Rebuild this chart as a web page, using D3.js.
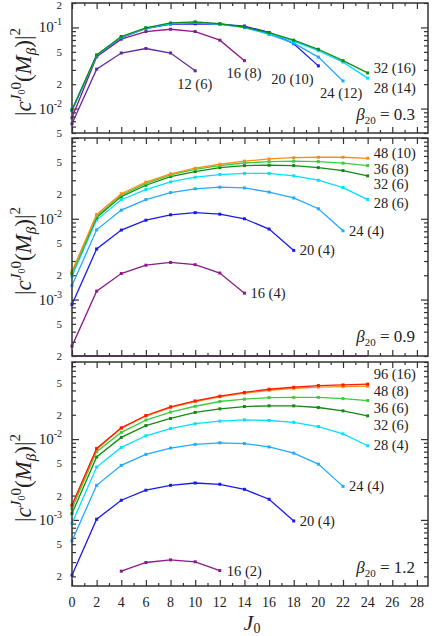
<!DOCTYPE html>
<html lang="en">
<head>
<meta charset="UTF-8">
<title></title>
<script type="text/javascript" src="https://cdn.jsdelivr.net/npm/d3@7"></script>
<style>
    body{ margin:0; background:#fff; }
    text{ font-family:"Liberation Serif","DejaVu Serif",serif; fill:#222; }
    .frame{ fill:none; stroke:#333; stroke-width:1.5; }
    .axis path{ display:none; }
    .axis line{ stroke:#333; stroke-width:1.2; }
    .series path{ fill:none; stroke-width:1.3; }
</style>
</head>
<body>
<svg id="chart" width="436" height="636"></svg>
<script type="text/javascript">
    // J0 values (x axis)
    var J0 = [0,2,4,6,8,10,12,14,16,18,20,22,24];
    var xTicks = [0,2,4,6,8,10,12,14,16,18,20,22,24,26,28];

    // beta20 = 0.3
    var b03_32_16 = [0.0097,0.0457,0.0773,0.099,0.1135,0.117,0.111,0.101,0.086,0.0697,0.0538,0.0389,0.0275];
    var b03_28_14 = [0.0095,0.0455,0.0765,0.098,0.112,0.1155,0.110,0.100,0.0842,0.0677,0.0518,0.0374,0.0237];
    var b03_24_12 = [0.0095,0.0452,0.076,0.0975,0.1115,0.115,0.109,0.100,0.082,0.064,0.0431,0.0219];
    var b03_20_10 = [0.0094,0.045,0.075,0.097,0.110,0.111,0.110,0.104,0.0867,0.063,0.0336];
    var b03_16_8  = [0.0077,0.0436,0.0716,0.089,0.095,0.089,0.0697,0.0389];
    var b03_12_6  = [0.0065,0.0306,0.0484,0.055,0.0484,0.0292];

    // beta20 = 0.9
    var b09_48_10 = [0.00224,0.0113,0.0204,0.0284,0.036,0.0423,0.0473,0.0517,0.055,0.057,0.0578,0.0578,0.0561];
    var b09_36_8  = [0.0021,0.0108,0.0197,0.0273,0.035,0.041,0.0455,0.049,0.051,0.0517,0.051,0.0488,0.0455];
    var b09_32_6  = [0.0021,0.0104,0.0188,0.026,0.0333,0.0384,0.043,0.0455,0.046,0.0455,0.043,0.0395,0.034];
    var b09_28_6  = [0.00194,0.0097,0.0172,0.023,0.0286,0.0327,0.0353,0.0365,0.0365,0.034,0.030,0.0243,0.0173];
    var b09_24_4  = [0.00149,0.0073,0.0128,0.0173,0.0211,0.0235,0.0246,0.0241,0.0214,0.0181,0.0133,0.0071];
    var b09_20_4  = [0.00087,0.00423,0.00725,0.0096,0.0112,0.0119,0.0114,0.0100,0.00746,0.00406];
    var b09_16_4  = [0.000265,0.00127,0.0021,0.00266,0.00288,0.0027,0.00213,0.0012];
    var b09_low   = [0.0002,0.0002,0.0002,0.0002,0.0002,0.0002,0.0002,0.0002,0.0002,0.0002,0.0002,0.0002,0.0002];

    // beta20 = 1.2
    var b12_96_16 = [0.00153,0.00767,0.0138,0.0196,0.0251,0.0297,0.034,0.0378,0.0414,0.0438,0.046,0.0468,0.0478];
    var b12_48_8  = [0.0015,0.0075,0.0136,0.0193,0.0246,0.0292,0.0334,0.037,0.0402,0.0425,0.044,0.0447,0.0452];
    var b12_36_6  = [0.00137,0.0070,0.0121,0.0172,0.0216,0.0255,0.0292,0.0312,0.0326,0.0328,0.0328,0.0317,0.030];
    var b12_32_6  = [0.0012,0.006,0.0105,0.0147,0.018,0.0214,0.0237,0.0253,0.0258,0.0258,0.0246,0.0224,0.0194];
    var b12_28_4  = [0.00091,0.00451,0.00789,0.011,0.0135,0.0155,0.0167,0.0173,0.017,0.0161,0.0143,0.0116,0.00827];
    var b12_24_4  = [0.00055,0.00268,0.00473,0.00648,0.00775,0.0086,0.009,0.0088,0.008,0.0067,0.0049,0.0026];
    var b12_20_4  = [0.000207,0.00102,0.00175,0.00233,0.00268,0.00286,0.00276,0.00239,0.0018,0.00097];
    var b12_16_2  = [0.000232,0.000297,0.00032,0.000303,0.000236];

    var col = {
        violet:"#5e2a9c", purple:"#8b1a8b", blue:"#1a1aee", sky:"#22aaff",
        cyan:"#00e0ff", dgreen:"#148a14", lgreen:"#3ccc3c", orange:"#ff8c1a", red:"#ff1a00"
    };

    var panels = [
        { top:3, bottom:133, domain:[5e-3,2e-1], beta:"0.3", by:120,
          series:[
            {v:b03_12_6,  s:0, c:col.violet, t:"12 (6)",  dx:-18, dy:18},
            {v:b03_16_8,  s:0, c:col.purple, t:"16 (8)",  dx:-18, dy:17},
            {v:b03_20_10, s:0, c:col.blue,   t:"20 (10)", dx:-47, dy:18},
            {v:b03_24_12, s:0, c:col.sky,    t:"24 (12)", dx:-23, dy:17},
            {v:b03_28_14, s:0, c:col.cyan,   t:"28 (14)", dx:6,   dy:15},
            {v:b03_32_16, s:0, c:col.dgreen, t:"32 (16)", dx:6,   dy:0}
          ]},
        { top:138, bottom:356, domain:[2e-4,1e-1], beta:"0.9", by:342,
          series:[
            {v:b09_low,   s:0, c:col.purple, t:null, nodots:true},
            {v:b09_16_4,  s:0, c:col.purple, t:"16 (4)",  dx:6, dy:5},
            {v:b09_20_4,  s:0, c:col.blue,   t:"20 (4)",  dx:6, dy:5},
            {v:b09_24_4,  s:0, c:col.sky,    t:"24 (4)",  dx:6, dy:5},
            {v:b09_28_6,  s:0, c:col.cyan,   t:"28 (6)",  dx:6, dy:8},
            {v:b09_32_6,  s:0, c:col.dgreen, t:"32 (6)",  dx:6, dy:13},
            {v:b09_36_8,  s:0, c:col.lgreen, t:"36 (8)",  dx:6, dy:8},
            {v:b09_48_10, s:0, c:col.orange, t:"48 (10)", dx:6, dy:0}
          ]},
        { top:362, bottom:586, domain:[1.52e-4,9e-2], beta:"1.2", by:573,
          series:[
            {v:b12_16_2,  s:2, c:col.purple, t:"16 (2)",  dx:7, dy:5},
            {v:b12_20_4,  s:0, c:col.blue,   t:"20 (4)",  dx:6, dy:5},
            {v:b12_24_4,  s:0, c:col.sky,    t:"24 (4)",  dx:6, dy:5},
            {v:b12_28_4,  s:0, c:col.cyan,   t:"28 (4)",  dx:6, dy:4},
            {v:b12_32_6,  s:0, c:col.dgreen, t:"32 (6)",  dx:6, dy:14},
            {v:b12_36_6,  s:0, c:col.lgreen, t:"36 (6)",  dx:6, dy:12},
            {v:b12_48_8,  s:0, c:col.orange, t:"48 (8)",  dx:6, dy:10},
            {v:b12_96_16, s:0, c:col.red,    t:"96 (16)", dx:6, dy:-5}
          ]}
    ];

    var svg = d3.select("#chart");
    var left = 72, right = 428;
    var x = d3.scaleLinear().domain([0,28.9]).range([left,right]);

    // appends pieces of text, each {t, size, italic, shift} (shift = baseline offset from main line)
    function rich(sel, parts){
        var cur = 0;
        parts.forEach(function(p){
            var sh = p.shift || 0;
            sel.append("tspan")
                .attr("dy", sh - cur)
                .attr("font-size", p.size)
                .attr("font-style", p.italic ? "italic" : null)
                .text(p.t);
            cur = sh;
        });
    }

    panels.forEach(function(p, pi){
        var y = d3.scaleLog().domain(p.domain).range([p.bottom,p.top]).clamp(true);
        var g = svg.append("g");
        var allTicks = y.ticks();
        var majors = allTicks.filter(function(d){ return Math.abs(Math.log10(d) - Math.round(Math.log10(d))) < 1e-6; });
        var minors = allTicks.filter(function(d){ return majors.indexOf(d) < 0; });
        var xMinor = d3.range(1,29,2);

        // y ticks both sides
        g.append("g").attr("class","axis").attr("transform","translate("+left+",0)")
            .call(d3.axisLeft(y).tickValues(majors).tickSize(-7).tickFormat(""));
        g.append("g").attr("class","axis").attr("transform","translate("+left+",0)")
            .call(d3.axisLeft(y).tickValues(minors).tickSize(-4).tickFormat(""));
        g.append("g").attr("class","axis").attr("transform","translate("+right+",0)")
            .call(d3.axisRight(y).tickValues(majors).tickSize(-7).tickFormat(""));
        g.append("g").attr("class","axis").attr("transform","translate("+right+",0)")
            .call(d3.axisRight(y).tickValues(minors).tickSize(-4).tickFormat(""));
        // x ticks top and bottom
        g.append("g").attr("class","axis").attr("transform","translate(0,"+p.bottom+")")
            .call(d3.axisBottom(x).tickValues(xTicks).tickSize(-6).tickFormat(""));
        g.append("g").attr("class","axis").attr("transform","translate(0,"+p.bottom+")")
            .call(d3.axisBottom(x).tickValues(xMinor).tickSize(-3).tickFormat(""));
        g.append("g").attr("class","axis").attr("transform","translate(0,"+p.top+")")
            .call(d3.axisTop(x).tickValues(xTicks).tickSize(-6).tickFormat(""));
        g.append("g").attr("class","axis").attr("transform","translate(0,"+p.top+")")
            .call(d3.axisTop(x).tickValues(xMinor).tickSize(-3).tickFormat(""));

        // y labels (none right on the top edge of a panel)
        majors.forEach(function(d){
            if(y(d) < p.top + 4) return;
            var t = g.append("text").attr("x", left-10).attr("y", y(d)+5).attr("text-anchor","end");
            rich(t, [{t:"10", size:15}, {t:String(Math.round(Math.log10(d))), size:10, shift:-7}]);
        });
        minors.forEach(function(d){
            var m = Math.round(d / Math.pow(10, Math.floor(Math.log10(d)+1e-9)));
            if(m==2 || m==5){
                g.append("text").attr("x", left-10).attr("y", Math.max(y(d)+4, 9))
                    .attr("text-anchor","end").attr("font-size",11).text(m);
            }
        });

        // series
        var line = d3.line().x(function(d){ return x(d[0]); }).y(function(d){ return y(d[1]); });
        p.series.forEach(function(s){
            var pts = s.v.map(function(v,i){ return [J0[i+s.s], v]; });
            var sg = g.append("g").attr("class","series");
            sg.append("path").attr("d", line(pts)).attr("stroke", s.c);
            if(!s.nodots){
                sg.selectAll("rect").data(pts).enter().append("rect")
                    .attr("x", function(d){ return x(d[0])-1.5; })
                    .attr("y", function(d){ return y(d[1])-1.5; })
                    .attr("width",3).attr("height",3).attr("fill", s.c);
            }
            if(s.t){
                var last = pts[pts.length-1];
                g.append("text").attr("x", x(last[0])+s.dx).attr("y", y(last[1])+s.dy)
                    .attr("font-size",14.5).text(s.t);
            }
        });

        // beta label
        var bt = g.append("text").attr("x",415).attr("y",p.by).attr("text-anchor","end");
        rich(bt, [{t:"β", size:17, italic:true}, {t:"20", size:11, shift:4}, {t:" = "+p.beta, size:17}]);

        g.append("rect").attr("class","frame")
            .attr("x",left).attr("y",p.top).attr("width",right-left).attr("height",p.bottom-p.top);

        // y title
        var cy = (p.top+p.bottom)/2 + 4;
        var yt = g.append("text").attr("transform","translate(31,"+cy+") rotate(-90)")
            .attr("text-anchor","middle");
        rich(yt, [
            {t:"|", size:23}, {t:"c", size:23, italic:true},
            {t:"J", size:15, italic:true, shift:-10}, {t:"0", size:10, shift:-6}, {t:"0", size:15, shift:-10},
            {t:"(", size:23}, {t:"M", size:23, italic:true}, {t:"β", size:15, italic:true, shift:5},
            {t:")|", size:23}, {t:"2", size:15, shift:-11}
        ]);

        if(pi == panels.length-1){
            xTicks.forEach(function(d){
                g.append("text").attr("x", x(d)).attr("y", p.bottom+21)
                    .attr("text-anchor","middle").attr("font-size",14).text(d);
            });
            var xl = g.append("text").attr("x", 252).attr("y", 630).attr("text-anchor","middle");
            rich(xl, [{t:"J", size:22, italic:true}, {t:"0", size:14, shift:3}]);
        }
    });
</script>
</body>
</html>
